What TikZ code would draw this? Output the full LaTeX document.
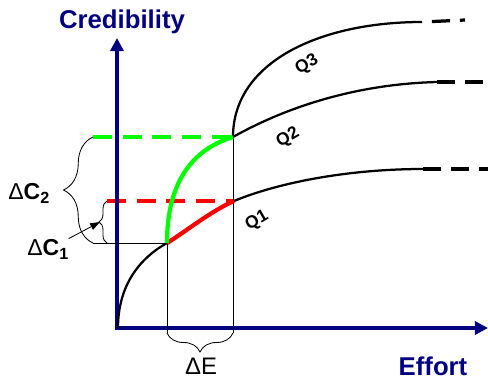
\documentclass[tikz,border=0pt]{standalone}
\usepackage{fontspec}
\setmainfont{Liberation Sans}
\usetikzlibrary{arrows.meta, positioning, decorations.pathreplacing}
\definecolor{axisblue}{HTML}{000080}
\definecolor{brightgreen}{HTML}{00FF00}
\definecolor{brightred}{HTML}{FF0000}

\begin{document}
\begin{tikzpicture}[
  x=0.25mm, y=-0.25mm,
  axis/.style={draw=axisblue, line width=2.4pt,
    {Triangle[length=9.3pt,width=9.3pt]}-{Triangle[length=9.3pt,width=9.3pt]}},
  curve/.style={line width=1.6pt},
  tail/.style={line width=2.3pt, dash pattern=on 13pt off 7pt},
  thin/.style={line width=0.6pt},
  gain/.style={line width=3pt},
  level/.style={line width=2.8pt, dash pattern=on 13.5pt off 7.6pt},
  brc/.style={thin, decorate, decoration={brace, amplitude=#1}},
  axlbl/.style={font=\fontsize{18.3}{20}\selectfont\bfseries, text=axisblue},
  dlbl/.style={font=\fontsize{16.4}{18}\selectfont, inner sep=0pt},
  qlbl/.style={font=\fontsize{12.4}{14}\selectfont\bfseries, rotate=30, inner sep=1pt}
]
  \useasboundingbox (0,0) rectangle (488,379);

  \coordinate (O)      at (118,328);
  \coordinate (P)      at (167,243);
  \coordinate (R)      at (234,201);
  \coordinate (G)      at (233,137);
  \coordinate (ytop)   at (117,38);
  \coordinate (xtip)   at (488,328);
  \coordinate (gstart) at (93,137);
  \coordinate (rstart) at (107,201);
  \coordinate (c2bot)  at (93,243);
  \coordinate (c1bot)  at (107,243);
  \coordinate (c1tip)  at (100,222);
  \coordinate (eL)     at (167,333);
  \coordinate (eR)     at (233,333);
  \coordinate (q1end)  at (423,169);
  \coordinate (q1tip)  at (488,169);
  \coordinate (q2end)  at (437,82);
  \coordinate (q2tip)  at (488,82);
  \coordinate (q3end)  at (422,22);
  \coordinate (q3tip)  at (465,20);

  \draw[level, brightgreen] (gstart) -- (G);
  \draw[level, brightred]   (rstart) -- (R);

  \draw[axis] (ytop) |- (xtip);

  \draw[thin] (P) -- (eL);
  \draw[thin] (G) -- (eR);
  \draw[thin] (P) -- (c2bot);
  \draw[brc=13.5pt] (eR) -- (eL);
  \draw[brc=21pt]   (c2bot) -- (gstart);
  \draw[brc=5.7pt]  (c1bot) -- (rstart);

  \draw[curve] (O) .. controls (118,285) and (140,258) .. (P);
  \draw[curve] (R) .. controls (280,182) and (350,169) .. (q1end);
  \draw[curve] (G) .. controls (290,105) and (360,84) .. (q2end);
  \draw[curve] (G) .. controls (233,62) and (320,22) .. (q3end);
  \draw[tail] (q1end) -- (q1tip);
  \draw[tail] (q2end) -- (q2tip);
  \draw[tail, dash phase=13pt] (q3end) -- (q3tip);

  \draw[gain, brightred]   (P) .. controls (185,232) and (211,211) .. (R);
  \draw[gain, brightgreen] (P) .. controls (167,185) and (190,150) .. (G);

  \node[axlbl, anchor=base] (ylbl) at (122,28)  {Credibility};
  \node[axlbl, anchor=base] (xlbl) at (433,375) {Effort};

  \node[dlbl, anchor=base west] (dc2) at (8,199)
    {Δ\textbf{C}\raisebox{-3.2pt}{\fontsize{11.5}{12}\selectfont\bfseries 2}};
  \node[dlbl, anchor=base west] (dc1) at (27,255)
    {Δ\textbf{C}\raisebox{-3.2pt}{\fontsize{11.5}{12}\selectfont\bfseries 1}};
  \node[dlbl, anchor=base, font=\fontsize{17}{19}\selectfont] (de) at (201,374) {ΔE};

  \draw[thin, -{Triangle[length=7pt,width=5pt]}] (dc1.north east) -- (c1tip);

  \node[qlbl] (q3) at (307,65)  {Q3};
  \node[qlbl] (q2) at (288,138) {Q2};
  \node[qlbl] (q1) at (257,221) {Q1};
\end{tikzpicture}
\end{document}
